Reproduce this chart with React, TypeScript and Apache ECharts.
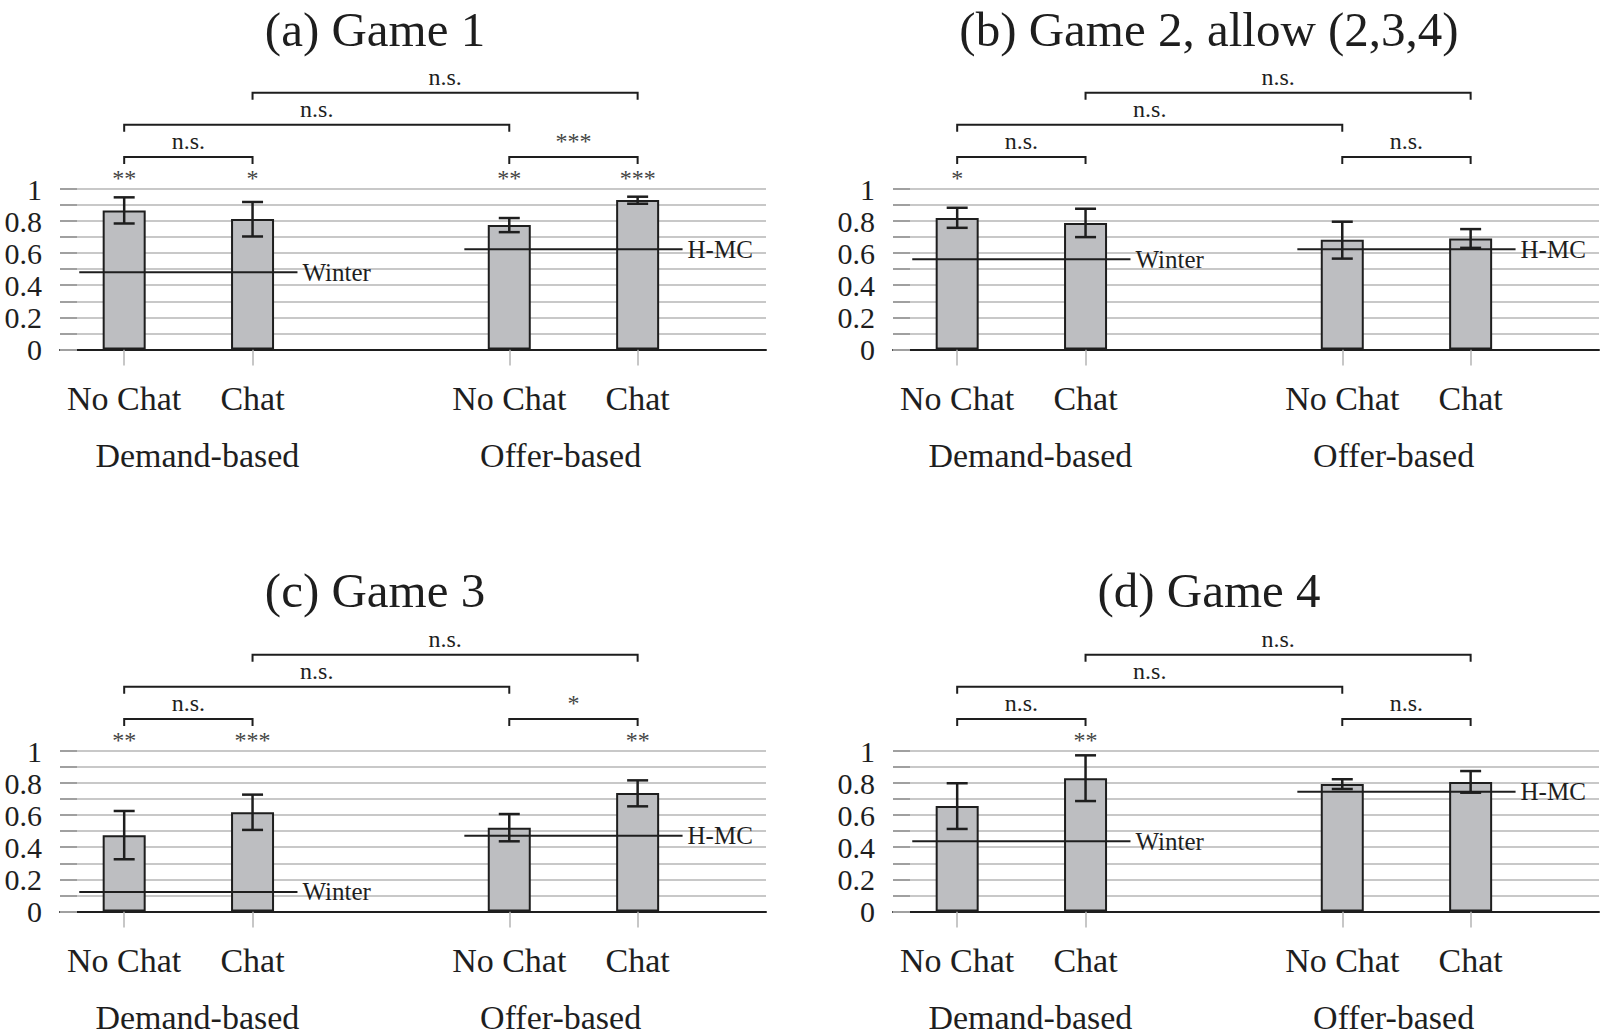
import React, { useEffect, useRef } from "react";
import * as echarts from "echarts";

// ---------- data ----------
const PANEL_TITLES = ["(a) Game 1", "(b) Game 2, allow (2,3,4)", "(c) Game 3", "(d) Game 4"];
const CATEGORY_X = [0, 1, 3, 4];
const CATEGORY_NAMES = ["No Chat", "Chat", "No Chat", "Chat"];
const GROUP_X = [0.57, 3.4];
const GROUP_NAMES = ["Demand-based", "Offer-based"];
const Y_LABELS = [0, 0.2, 0.4, 0.6, 0.8, 1];

const MEANS = [
  [0.866, 0.813, 0.775, 0.931],
  [0.819, 0.788, 0.683, 0.691],
  [0.475, 0.618, 0.522, 0.738],
  [0.657, 0.83, 0.794, 0.807],
];
const ERR_LOW = [
  [0.785, 0.704, 0.731, 0.908],
  [0.758, 0.7, 0.566, 0.633],
  [0.325, 0.508, 0.437, 0.655],
  [0.514, 0.688, 0.763, 0.74],
];
const ERR_HIGH = [
  [0.948, 0.919, 0.819, 0.952],
  [0.883, 0.877, 0.796, 0.75],
  [0.626, 0.728, 0.607, 0.817],
  [0.799, 0.973, 0.824, 0.875],
];
const WINTER = [0.481, 0.5625, 0.121, 0.437];
const HMC = [0.625, 0.625, 0.472, 0.746];
const BAR_STARS = [
  ["**", "*", "**", "***"],
  ["*", "", "", ""],
  ["**", "***", "", "**"],
  ["", "**", "", ""],
];
// bracket: [from category x, to category x, level]
const BRACKETS = [
  [0, 1, 0],
  [3, 4, 0],
  [0, 3, 1],
  [1, 4, 2],
];
const BRACKET_LABELS = [
  ["n.s.", "***", "n.s.", "n.s."],
  ["n.s.", "n.s.", "n.s.", "n.s."],
  ["n.s.", "*", "n.s.", "n.s."],
  ["n.s.", "n.s.", "n.s.", "n.s."],
];

// ---------- layout / style ----------
const FONT = '"Liberation Serif", "Times New Roman", serif';
const GRID_LEFT = [60, 893, 60, 893];
const GRID_TOP = [189, 189, 751, 751];
const GRID_W = 706;
const GRID_H = 160.4;
const TITLE_X = [375, 1209, 375, 1209];
const TITLE_Y = [29, 29, 590, 590];
const LEVEL_Y = [1.2, 1.4, 1.6];
const STAR_Y = 1.07;
const REF_SPAN = 0.35;
const INK = "#1e1e1e";

function buildOption() {
  const grid: any[] = [];
  const xAxis: any[] = [];
  const yAxis: any[] = [];
  const series: any[] = [];
  const graphic: any[] = [];

  for (let p = 0; p < 4; p++) {
    grid.push({ left: GRID_LEFT[p], top: GRID_TOP[p], width: GRID_W, height: GRID_H });
    xAxis.push({
      type: "value",
      gridIndex: p,
      position: "bottom",
      min: -0.5,
      max: 5,
      splitLine: { show: false },
      axisLine: { show: true, onZero: false, lineStyle: { color: INK, width: 2 } },
      axisTick: { show: true, customValues: CATEGORY_X, length: 16, lineStyle: { color: "#b5b5b5", width: 1.5 } },
      axisLabel: {
        show: true,
        customValues: CATEGORY_X,
        formatter: (v: number) => CATEGORY_NAMES[CATEGORY_X.indexOf(Math.round(v))] || "",
        fontFamily: FONT,
        fontSize: 34,
        color: INK,
        margin: 32,
      },
    });
    xAxis.push({
      type: "value",
      gridIndex: p,
      position: "bottom",
      min: -0.5,
      max: 5,
      splitLine: { show: false },
      axisLine: { show: false, onZero: false },
      axisTick: { show: false },
      axisLabel: {
        show: true,
        customValues: GROUP_X,
        formatter: (v: number) => {
          const i = GROUP_X.findIndex((g) => Math.abs(g - v) < 1e-6);
          return i >= 0 ? GROUP_NAMES[i] : "";
        },
        fontFamily: FONT,
        fontSize: 34,
        color: INK,
        margin: 89,
      },
    });
    yAxis.push({
      type: "value",
      gridIndex: p,
      position: "left",
      min: 0,
      max: 1,
      interval: 0.1,
      axisLine: { show: false, onZero: false },
      axisTick: { show: true, inside: true, length: 17, lineStyle: { color: "#a0a0a0", width: 2 } },
      splitLine: { show: true, lineStyle: { color: "#c8c8c8", width: 2 } },
      axisLabel: {
        customValues: Y_LABELS,
        fontFamily: FONT,
        fontSize: 30,
        lineHeight: 26,
        color: INK,
        margin: 18,
        formatter: (v: number) => String(Math.round(v * 10) / 10),
      },
    });

    const xi = p * 2;
    // bars
    series.push({
      type: "bar",
      xAxisIndex: xi,
      yAxisIndex: p,
      barWidth: 43,
      data: CATEGORY_X.map((x, i) => [x, MEANS[p][i]]),
      itemStyle: { color: "#bdbec1", borderColor: INK, borderWidth: 2 },
      z: 2,
    });
    // reference lines
    const refs = [
      { name: "Winter", v: WINTER[p], from: CATEGORY_X[0], to: CATEGORY_X[1] },
      { name: "H-MC", v: HMC[p], from: CATEGORY_X[2], to: CATEGORY_X[3] },
    ];
    refs.forEach((r) => {
      series.push({
        type: "line",
        name: r.name,
        xAxisIndex: xi,
        yAxisIndex: p,
        data: [
          [r.from - REF_SPAN, r.v],
          [r.to + REF_SPAN, r.v],
        ],
        symbol: "none",
        lineStyle: { color: INK, width: 2 },
        endLabel: {
          show: true,
          formatter: r.name,
          fontFamily: FONT,
          fontSize: 25,
          color: INK,
          distance: 5,
        },
        z: 3,
      });
    });
    // error bars
    series.push({
      type: "custom",
      xAxisIndex: xi,
      yAxisIndex: p,
      data: CATEGORY_X.map((x, i) => [x, ERR_LOW[p][i], ERR_HIGH[p][i]]),
      encode: { x: 0, y: [1, 2] },
      z: 4,
      renderItem: (params: any, api: any) => {
        const x = api.value(0);
        const top = api.coord([x, api.value(2)]);
        const bot = api.coord([x, api.value(1)]);
        const cap = 10.5;
        const st = { stroke: INK, lineWidth: 2.5 };
        return {
          type: "group",
          children: [
            { type: "line", shape: { x1: top[0], y1: top[1], x2: bot[0], y2: bot[1] }, style: st },
            { type: "line", shape: { x1: top[0] - cap, y1: top[1], x2: top[0] + cap, y2: top[1] }, style: st },
            { type: "line", shape: { x1: bot[0] - cap, y1: bot[1], x2: bot[0] + cap, y2: bot[1] }, style: st },
          ],
        };
      },
    });
    // stars above bars
    series.push({
      type: "custom",
      xAxisIndex: xi,
      yAxisIndex: p,
      data: CATEGORY_X.map((x) => [x, STAR_Y]),
      encode: { x: 0, y: 1 },
      clip: false,
      z: 4,
      renderItem: (params: any, api: any) => {
        const pt = api.coord([api.value(0), api.value(1)]);
        return {
          type: "text",
          x: pt[0],
          y: pt[1],
          style: {
            text: BAR_STARS[p][params.dataIndex],
            fill: "#444",
            fontFamily: FONT,
            fontSize: 24,
            align: "center",
            verticalAlign: "middle",
          },
        };
      },
    });
    // brackets
    series.push({
      type: "custom",
      xAxisIndex: xi,
      yAxisIndex: p,
      data: BRACKETS.map((b) => [b[0], b[1], LEVEL_Y[b[2]]]),
      encode: { x: [0, 1], y: 2 },
      clip: false,
      z: 4,
      renderItem: (params: any, api: any) => {
        const y = api.value(2);
        const a = api.coord([api.value(0), y]);
        const b = api.coord([api.value(1), y]);
        const drop = 7;
        const label = BRACKET_LABELS[p][params.dataIndex];
        return {
          type: "group",
          children: [
            {
              type: "polyline",
              shape: {
                points: [
                  [a[0], a[1] + drop],
                  [a[0], a[1]],
                  [b[0], b[1]],
                  [b[0], b[1] + drop],
                ],
              },
              style: { stroke: INK, lineWidth: 2, fill: null },
            },
            {
              type: "text",
              x: (a[0] + b[0]) / 2,
              y: a[1] - 16,
              style: {
                text: label,
                fill: label === "n.s." ? INK : "#444",
                fontFamily: FONT,
                fontSize: 24,
                align: "center",
                verticalAlign: "middle",
              },
            },
          ],
        };
      },
    });

    graphic.push({
      type: "text",
      x: TITLE_X[p],
      y: TITLE_Y[p],
      style: {
        text: PANEL_TITLES[p],
        fill: INK,
        fontFamily: FONT,
        fontSize: 49,
        align: "center",
        verticalAlign: "middle",
      },
    });
  }

  return {
    animation: false,
    backgroundColor: "#ffffff",
    textStyle: { fontFamily: FONT },
    grid,
    xAxis,
    yAxis,
    series,
    graphic,
  };
}

export default function App() {
  const ref = useRef<HTMLDivElement>(null);
  useEffect(() => {
    if (!ref.current) return;
    const chart = echarts.init(ref.current, undefined, { renderer: "svg" });
    chart.setOption(buildOption());
    return () => chart.dispose();
  }, []);
  return (
    <div
      ref={ref}
      style={{ position: "absolute", left: 0, top: 0, width: 1600, height: 1035, background: "#fff" }}
    />
  );
}
